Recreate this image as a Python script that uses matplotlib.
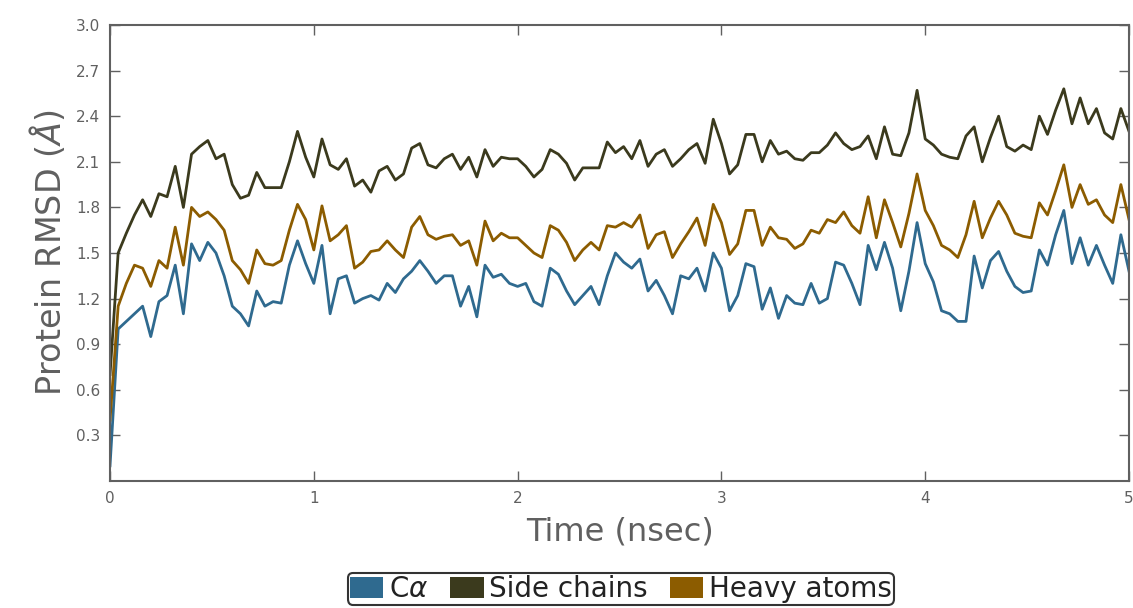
import numpy as np
import matplotlib
matplotlib.use("Agg")
import matplotlib.pyplot as plt
from matplotlib.patches import Patch

# time grid (nsec), one sample every 0.04 ns
time = np.round(np.arange(126) * 0.04, 2)

calpha = [
    0.10, 1.00, 1.05, 1.10, 1.15, 0.95, 1.18, 1.22, 1.42, 1.10, 1.56, 1.45, 1.57, 1.50, 1.35, 1.15, 1.10, 1.02, 1.25, 1.15, 1.18, 1.17, 1.42, 1.58, 1.43,
    1.30, 1.55, 1.10, 1.33, 1.35, 1.17, 1.20, 1.22, 1.19, 1.30, 1.24, 1.33, 1.38, 1.45, 1.38, 1.30, 1.35, 1.35, 1.15, 1.28, 1.08, 1.42, 1.34, 1.36, 1.30,
    1.28, 1.30, 1.18, 1.15, 1.40, 1.36, 1.25, 1.16, 1.22, 1.28, 1.16, 1.35, 1.50, 1.44, 1.40, 1.46, 1.25, 1.32, 1.22, 1.10, 1.35, 1.33, 1.40, 1.25, 1.50,
    1.40, 1.12, 1.22, 1.43, 1.41, 1.13, 1.27, 1.07, 1.22, 1.17, 1.16, 1.30, 1.17, 1.20, 1.44, 1.42, 1.30, 1.16, 1.55, 1.39, 1.57, 1.40, 1.12, 1.38, 1.70,
    1.43, 1.31, 1.12, 1.10, 1.05, 1.05, 1.48, 1.27, 1.45, 1.51, 1.38, 1.28, 1.24, 1.25, 1.52, 1.42, 1.62, 1.78, 1.43, 1.60, 1.42, 1.55, 1.42, 1.30, 1.62,
    1.38,
]

side_chains = [
    0.70, 1.50, 1.63, 1.75, 1.85, 1.74, 1.89, 1.87, 2.07, 1.80, 2.15, 2.20, 2.24, 2.12, 2.15, 1.95, 1.86, 1.88, 2.03, 1.93, 1.93, 1.93, 2.10, 2.30, 2.13,
    2.00, 2.25, 2.08, 2.05, 2.12, 1.94, 1.98, 1.90, 2.04, 2.07, 1.98, 2.02, 2.19, 2.22, 2.08, 2.06, 2.12, 2.15, 2.05, 2.13, 2.00, 2.18, 2.07, 2.13, 2.12,
    2.12, 2.07, 2.00, 2.05, 2.18, 2.15, 2.09, 1.98, 2.06, 2.06, 2.06, 2.23, 2.16, 2.20, 2.12, 2.24, 2.07, 2.15, 2.18, 2.07, 2.12, 2.18, 2.22, 2.09, 2.38,
    2.22, 2.02, 2.08, 2.28, 2.28, 2.10, 2.24, 2.15, 2.17, 2.12, 2.11, 2.16, 2.16, 2.21, 2.29, 2.22, 2.18, 2.20, 2.27, 2.12, 2.33, 2.15, 2.14, 2.29, 2.57,
    2.25, 2.21, 2.15, 2.13, 2.12, 2.27, 2.33, 2.10, 2.26, 2.40, 2.20, 2.17, 2.21, 2.18, 2.40, 2.28, 2.44, 2.58, 2.35, 2.52, 2.35, 2.45, 2.29, 2.25, 2.45,
    2.30,
]

heavy_atoms = [
    0.40, 1.15, 1.30, 1.42, 1.40, 1.28, 1.45, 1.40, 1.67, 1.42, 1.80, 1.74, 1.77, 1.72, 1.65, 1.45, 1.39, 1.30, 1.52, 1.43, 1.42, 1.45, 1.65, 1.82, 1.72,
    1.52, 1.81, 1.58, 1.62, 1.68, 1.40, 1.44, 1.51, 1.52, 1.58, 1.52, 1.47, 1.67, 1.74, 1.62, 1.59, 1.61, 1.62, 1.55, 1.58, 1.42, 1.71, 1.58, 1.63, 1.60,
    1.60, 1.55, 1.50, 1.47, 1.68, 1.65, 1.57, 1.45, 1.52, 1.57, 1.52, 1.68, 1.67, 1.70, 1.67, 1.75, 1.53, 1.62, 1.64, 1.47, 1.56, 1.64, 1.73, 1.55, 1.82,
    1.70, 1.49, 1.56, 1.78, 1.78, 1.55, 1.67, 1.60, 1.59, 1.53, 1.56, 1.65, 1.63, 1.72, 1.70, 1.77, 1.68, 1.63, 1.87, 1.60, 1.85, 1.70, 1.54, 1.76, 2.02,
    1.78, 1.68, 1.55, 1.52, 1.47, 1.62, 1.84, 1.60, 1.73, 1.84, 1.75, 1.63, 1.61, 1.60, 1.83, 1.75, 1.91, 2.08, 1.80, 1.95, 1.82, 1.85, 1.75, 1.70, 1.95,
    1.72,
]

labels = [r'C$\alpha$', 'Side chains', 'Heavy atoms']
colors = ['#2f6a8f', '#3b3a1d', '#8c5c00']

gray = '#606060'

fig = plt.figure(figsize=(11.33, 6.08), dpi=100)
ax = fig.add_axes([0.0971, 0.2089, 0.8994, 0.75])

ax.plot(time, calpha, color=colors[0], lw=2)
ax.plot(time, side_chains, color=colors[1], lw=2)
ax.plot(time, heavy_atoms, color=colors[2], lw=2)

ax.set_xlim(0, 5)
ax.set_ylim(0, 3.0)
ax.set_xticks([0, 1, 2, 3, 4, 5])
ax.set_yticks([0.3, 0.6, 0.9, 1.2, 1.5, 1.8, 2.1, 2.4, 2.7, 3.0])
ax.set_yticklabels(['0.3', '0.6', '0.9', '1.2', '1.5', '1.8', '2.1', '2.4', '2.7', '3.0'])

ax.tick_params(direction='in', length=7, width=1, colors=gray, labelsize=11,
               top=True, right=True, pad=7)
for s in ax.spines.values():
    s.set_color(gray)
    s.set_linewidth(1.5)

ax.set_xlabel('Time (nsec)', fontsize=23, color=gray, labelpad=8)
ax.set_ylabel(r'Protein RMSD ($\AA$)', fontsize=24, color=gray, labelpad=6)

handles = [Patch(facecolor=c, edgecolor='none') for c in colors]
leg = fig.legend(handles, labels, loc='lower center', ncol=3,
                 bbox_to_anchor=(0.548, -0.018), fontsize=20, frameon=True,
                 handlelength=1.2, handleheight=0.8, handletextpad=0.2,
                 columnspacing=0.8, borderpad=0.08, fancybox=True)
leg.get_frame().set_edgecolor('black')
leg.get_frame().set_linewidth(1.5)
for t in leg.get_texts():
    t.set_color('#222222')

plt.savefig('out.png', dpi=100)
